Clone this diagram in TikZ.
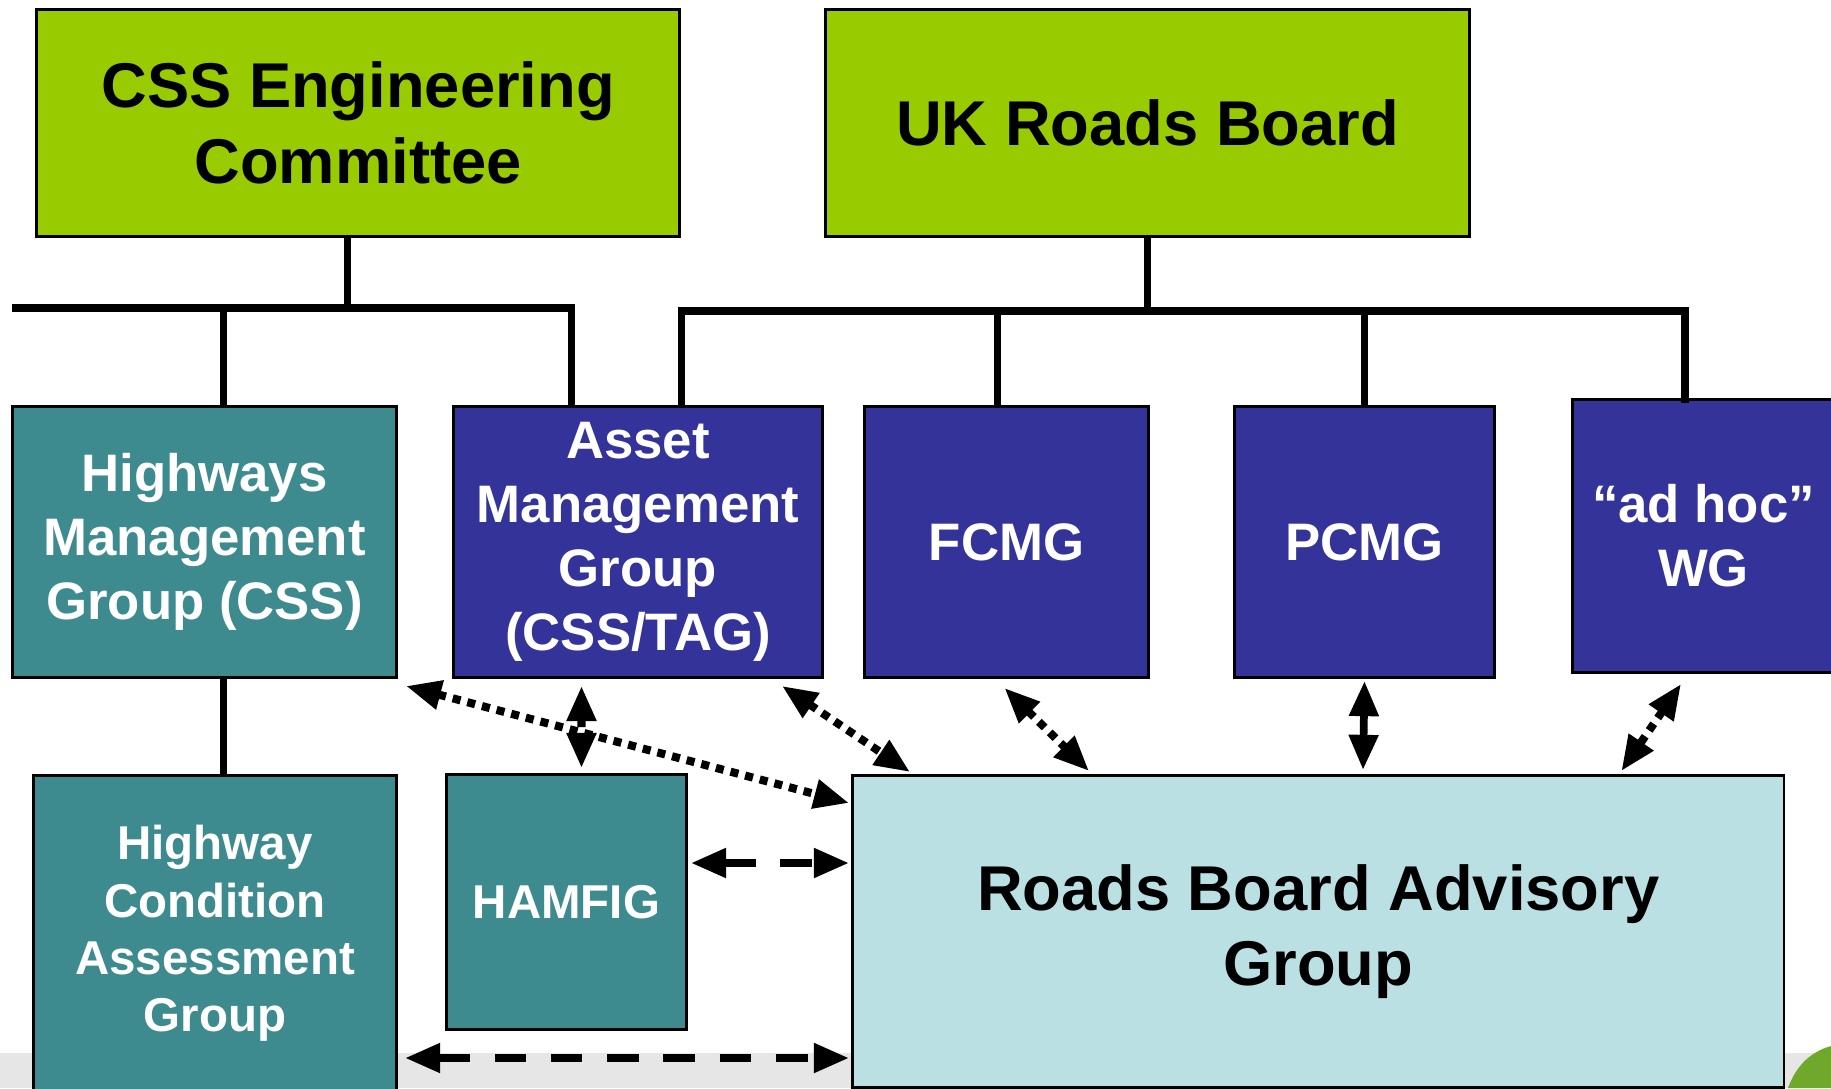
\documentclass[tikz,border=0pt]{standalone}
\usepackage{fontspec}
\setmainfont{Liberation Sans}
\usetikzlibrary{positioning,arrows.meta,calc}
\definecolor{cssgreen}{HTML}{99CC00}
\definecolor{hmteal}{HTML}{3D8B8F}
\definecolor{rbblue}{HTML}{333399}
\definecolor{rbcyan}{HTML}{BBE0E3}
\definecolor{bandgray}{HTML}{E6E6E6}
\definecolor{leafgreen}{HTML}{6FA82A}
\tikzset{
>={Triangle[length=10pt,width=8pt]},
  topbox/.style={
    rectangle,
    draw=black, line width=0.8pt,
    fill=cssgreen,
    anchor=north west,
    inner sep=0pt,
    align=center,
    font=\bfseries\fontsize{18}{21.5}\selectfont},
  tealbox/.style={
    rectangle,
    draw=black, line width=0.8pt,
    fill=hmteal,
    text=white,
    anchor=north west,
    inner sep=0pt,
    align=center,
    font=\bfseries\fontsize{15}{18.2}\selectfont},
  bluebox/.style={
    tealbox,
    fill=rbblue},
  advbox/.style={
    topbox,
    fill=rbcyan},
  tree/.style={draw, line width=2.2pt},
  dotline/.style={draw, <->, line width=2.3pt, dash pattern=on 2.3pt off 2pt},
  dashline/.style={draw, <->, line width=2.2pt, dash pattern=on 9pt off 7pt},
  solidline/.style={draw, <->, line width=2.2pt},
}

\begin{document}
\begin{tikzpicture}[x=0.01cm,y=-0.01cm]
  \useasboundingbox (0,0) rectangle (1831,1088);
  \clip (0,0) rectangle (1831,1088);
  % slide background
  \fill[bandgray] (0,1053) rectangle (1831,1088);
  \fill[leafgreen] (1788,1088) .. controls (1796,1066) and (1810,1052) .. (1831,1046) -- (1831,1088) -- cycle;

  % top row
  \node[topbox, minimum width=6.43cm, minimum height=2.27cm] (cssec) at (35,8) {CSS Engineering\\Committee};
  \node[topbox, minimum width=6.44cm, minimum height=2.27cm] (ukrb) at (824,8) {UK Roads Board};

  % groups
  \node[tealbox, minimum width=3.84cm, minimum height=2.71cm] (hmg) at (11,405) {Highways\\Management\\Group (CSS)};
  \node[bluebox, minimum width=3.69cm, minimum height=2.71cm] (amg) at (452,405) {Asset\\Management\\Group\\(CSS/TAG)};
  \node[bluebox, minimum width=2.84cm, minimum height=2.71cm] (fcmg) at (863,405) {FCMG};
  \node[bluebox, minimum width=2.60cm, minimum height=2.71cm] (pcmg) at (1233,405) {PCMG};
  \node[bluebox, minimum width=2.62cm, minimum height=2.73cm] (adhoc) at (1571,398) {“ad hoc”\\WG};

  % bottom row
  \node[tealbox, minimum width=3.63cm, minimum height=3.16cm,
        font=\bfseries\fontsize{13.5}{16.3}\selectfont] (hcag) at (32,774) {Highway\\Condition\\Assessment\\Group};
  \node[tealbox, minimum width=2.40cm, minimum height=2.55cm,
        font=\bfseries\fontsize{13.5}{16.3}\selectfont] (hamfig) at (445,773) {HAMFIG};
  \node[advbox, minimum width=9.31cm, minimum height=3.12cm] (rbag) at (851,774) {Roads Board Advisory\\Group};

  % reporting lines
  \coordinate (lbar-w) at (12,308);
  \coordinate (rbar-e) at (1685,311);
  \draw[tree] ([shift={(-10.5,0)}]cssec.south) -- ([shift={(-10.5,0)}]cssec.south |- lbar-w);
  \draw[tree] (lbar-w) -| ([shift={(-66.5,0)}]amg.north);
  \draw[tree] ([shift={(19,0)}]hmg.north) -- ([shift={(19,0)}]hmg.north |- lbar-w);
  \draw[tree] ([shift={(19,0)}]hmg.south) -- ([shift={(19,0)}]hmg.south |- hcag.north);
  \draw[tree] (ukrb.south) -- (ukrb.south |- rbar-e);
  \draw[tree] ([shift={(43.5,0)}]amg.north) |- (rbar-e) -- ([shift={(0,5)}]rbar-e |- adhoc.north);
  \draw[tree] ([shift={(-9,0)}]fcmg.north) -- ([shift={(-9,0)}]fcmg.north |- rbar-e);
  \draw[tree] (pcmg.north) -- (pcmg.north |- rbar-e);

  % advisory links
  \draw[dotline] ([shift={(8,7)}]hmg.south east) -- ([shift={(-2,29)}]rbag.north west);
  \draw[dotline] ([shift={(-56.5,7)}]amg.south) -- ([shift={(15,-5)}]hamfig.north);
  \draw[dotline] ([shift={(-42,7)}]amg.south east) -- ([shift={(59,-2)}]rbag.north west);
  \draw[dotline] ([shift={(-2,9)}]fcmg.south) -- ([shift={(238,-3)}]rbag.north west);
  \draw[solidline] ([shift={(0,2)}]pcmg.south) -- ([shift={(512,-4)}]rbag.north west);
  \draw[dotline] ([shift={(110,10)}]adhoc.south west) -- ([shift={(-164,-3)}]rbag.north east);
  \draw[dashline] ([shift={(3,90)}]hamfig.north east) -- ([shift={(-2,89)}]rbag.north west);
  \draw[dashline] ([shift={(7,284)}]hcag.north east) -- ([shift={(-2,284)}]rbag.north west);
\end{tikzpicture}
\end{document}
